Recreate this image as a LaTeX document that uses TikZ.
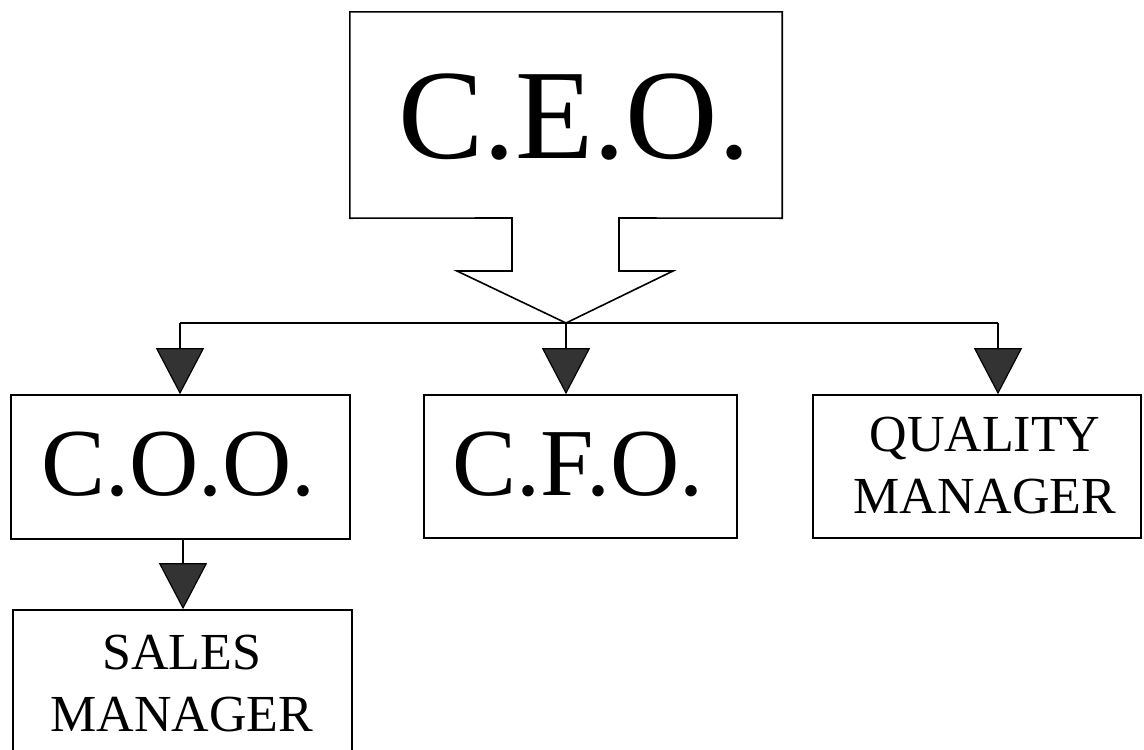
\documentclass[tikz,border=0pt]{standalone}
\usepackage{fontspec}
\setmainfont{Liberation Serif}
\usetikzlibrary{arrows.meta}
\definecolor{tipgray}{HTML}{333333}
\tikzset{
  box/.style={draw=black, line width=1.6pt, rectangle, inner sep=0pt},
  wire/.style={draw=black, line width=1.6pt},
  tri/.style={wire, -{Triangle[length=46pt, width=48pt, fill=tipgray, line width=1.2pt]}},
  big/.style={anchor=base, font=\fontsize{128}{130}\selectfont, inner sep=0pt},
  mid/.style={anchor=base, font=\fontsize{96}{98}\selectfont, inner sep=0pt},
  small/.style={anchor=base, font=\fontsize{52}{62}\selectfont, inner sep=0pt, align=center},
}
\begin{document}
\begin{tikzpicture}[x=1pt,y=-1pt]
\clip (0,0) rectangle (1144,750);
\fill[white] (0,0) rectangle (1144,750);
% CEO callout
\node[inner sep=0pt, minimum width=432pt, minimum height=206pt] (ceo) at (566,115) {};
\coordinate (hub) at (566,323);
\draw[wire, line join=miter]
  (ceo.north west) -- (ceo.north east) -- (ceo.south east) -- (619,218) -- (619,271) -- (673,271)
  -- (hub) -- (457,271) -- (512,271) -- (512,218) -- (ceo.south west) -- cycle;
\node[big] (ceotxt) at (574,158) {C.E.O.};
% boxes
\node[box, minimum width=339pt, minimum height=144pt] (coo) at (180.5,467) {};
\node[box, minimum width=313pt, minimum height=143pt] (cfo) at (580.5,466.5) {};
\node[box, minimum width=328pt, minimum height=143pt] (qm) at (977,466.5) {};
\node[box, minimum width=339pt, minimum height=190pt] (sm) at (182.5,705) {};
\node[mid] (cootxt) at (178.5,495) {C.O.O.};
\node[mid] (cfotxt) at (578,495) {C.F.O.};
\node[small] (qmtxt1) at (985,451) {QUALITY};
\node[small] (qmtxt2) at (985,513) {MANAGER};
\node[small] (smtxt1) at (182,669) {SALES};
\node[small] (smtxt2) at (182,731) {MANAGER};
% connectors
\coordinate (lft) at (180,323);
\coordinate (rgt) at (998,323);
\draw[wire] (lft) -- (rgt);
\draw[tri] (lft) -- (lft |- coo.north);
\draw[tri] (hub) -- (hub |- cfo.north);
\draw[tri] (rgt) -- (rgt |- qm.north);
\coordinate (cooout) at (183,539);
\draw[tri] (cooout) -- (cooout |- sm.north);
\end{tikzpicture}
\end{document}
